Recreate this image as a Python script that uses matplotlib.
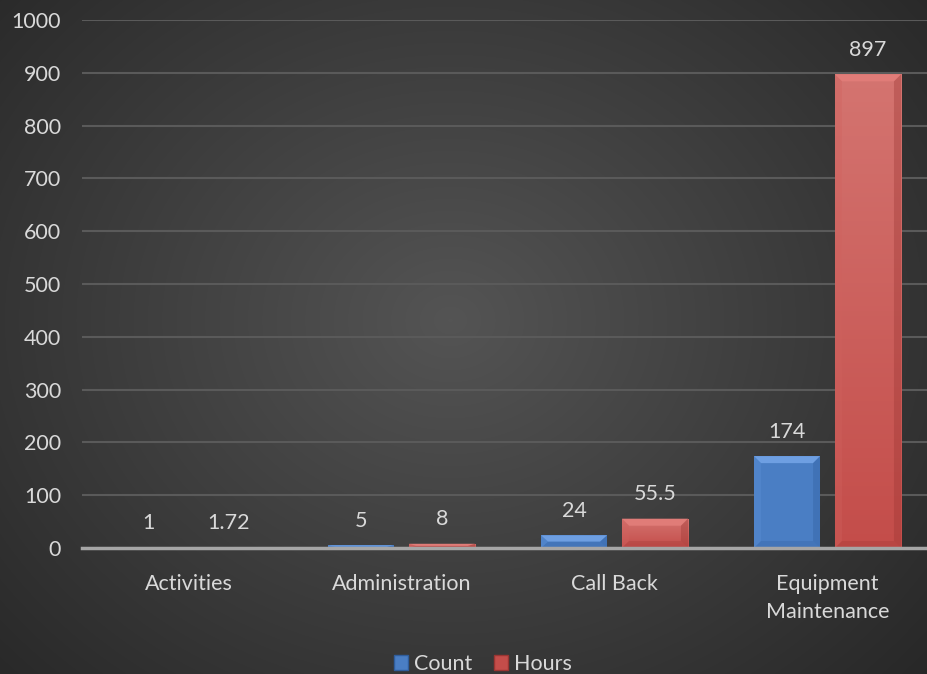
import numpy as np
import matplotlib.pyplot as plt
from matplotlib.patches import Polygon, Patch

categories = ["Activities", "Administration", "Call Back", "Equipment\nMaintenance"]
count = [1, 5, 24, 174]
hours = [1.72, 8, 55.5, 897]
count_labels = ["1", "5", "24", "174"]
hours_labels = ["1.72", "8", "55.5", "897"]

plt.rcParams['font.family'] = ['Lato', 'DejaVu Sans']
txt = "#d9d9d9"
fs = 15.5

fig = plt.figure(figsize=(9.28, 6.74), dpi=100)

# radial gradient background
bg = fig.add_axes([0, 0, 1, 1], zorder=-10)
yy, xx = np.mgrid[0:674, 0:928]
r = np.sqrt(((xx - 450) / 620.0) ** 2 + ((yy - 320) / 520.0) ** 2)
shade = np.clip(0.33 - 0.17 * r, 0.14, 0.33)
bg.imshow(np.dstack([shade] * 3), aspect="auto", extent=[0, 1, 0, 1])
bg.axis("off")

ax = fig.add_axes([82 / 928, 126 / 674, 852 / 928, 528 / 674])
ax.set_facecolor("none")
x = np.arange(len(categories))
w = 0.31
off = 0.19
ax.set_xlim(-0.5, 3.5)
ax.set_ylim(0, 1000)

def bevel_bar(xc, h, base, light, dark, top_col, grad_top=None):
    bars = ax.bar(xc, h, w, color=base, zorder=3, linewidth=0)
    rect = bars[0]
    if grad_top is not None:
        g = np.linspace(0, 1, 100)[:, None]
        c0 = np.array(plt.matplotlib.colors.to_rgb(base))
        c1 = np.array(plt.matplotlib.colors.to_rgb(grad_top))
        img = c0[None, None, :] * (1 - g[..., None]) + c1[None, None, :] * g[..., None]
        im = ax.imshow(img, extent=[xc - w / 2, xc + w / 2, 0, h], origin="lower",
                       aspect="auto", zorder=3.1)
        im.set_clip_path(rect)
    # bevel size in data units (~7 px)
    ux = 7 / 213.0
    uy = min(7 / 0.528, h / 2)
    x0, x1 = xc - w / 2, xc + w / 2
    ax.add_patch(Polygon([[x0, h], [x1, h], [x1 - ux, h - uy], [x0 + ux, h - uy]],
                         closed=True, color=top_col, lw=0, zorder=3.2))
    ax.add_patch(Polygon([[x0, 0], [x0, h], [x0 + ux, h - uy], [x0 + ux, uy]],
                         closed=True, color=light, lw=0, zorder=3.2, alpha=0.35))
    ax.add_patch(Polygon([[x1, 0], [x1, h], [x1 - ux, h - uy], [x1 - ux, uy]],
                         closed=True, color=dark, lw=0, zorder=3.2, alpha=0.35))
    ax.add_patch(Polygon([[x0, 0], [x1, 0], [x1 - ux, uy], [x0 + ux, uy]],
                         closed=True, color=dark, lw=0, zorder=3.2, alpha=0.25))

for i in range(len(categories)):
    bevel_bar(x[i] - off, count[i], "#4a7ec4", "#5e92d8", "#2f5d9c", "#6e9fe2")
    bevel_bar(x[i] + off, hours[i], "#c44d4a", "#d0625e", "#9a3532", "#e07c78",
              grad_top="#d47470")
    ax.text(x[i] - off, count[i] + 46, count_labels[i], ha="center", va="center",
            color=txt, fontsize=fs, zorder=5)
    ax.text(x[i] + off, hours[i] + 46, hours_labels[i], ha="center", va="center",
            color=txt, fontsize=fs, zorder=5)

ax.set_yticks(range(0, 1001, 100))
ax.set_xticks(x)
ax.set_xticklabels(categories, linespacing=1.45)
ax.tick_params(axis="both", length=0, colors=txt, labelsize=fs)
ax.tick_params(axis="y", pad=15)
ax.tick_params(axis="x", pad=19)
for lbl in ax.get_yticklabels():
    lbl.set_horizontalalignment("right")
ax.yaxis.grid(True, color="#5a5a5a", linewidth=1.5, zorder=0)
ax.set_axisbelow(True)
for s in ["top", "right", "left"]:
    ax.spines[s].set_visible(False)
ax.spines["bottom"].set_color("#a6a6a6")
ax.spines["bottom"].set_linewidth(2.5)
ax.spines["bottom"].set_zorder(4)

handles = [Patch(facecolor="#4a7ec4", edgecolor="#2f5d9c", label="Count"),
           Patch(facecolor="#c44d4a", edgecolor="#9a3532", label="Hours")]
fig.legend(handles=handles, loc="center", bbox_to_anchor=(483 / 928, 1 - 664 / 674),
           ncol=2, frameon=False, fontsize=fs, labelcolor=txt, handlelength=0.65,
           handleheight=0.65, handletextpad=0.3, columnspacing=1.0)

fig.savefig("out.png", dpi=100)
